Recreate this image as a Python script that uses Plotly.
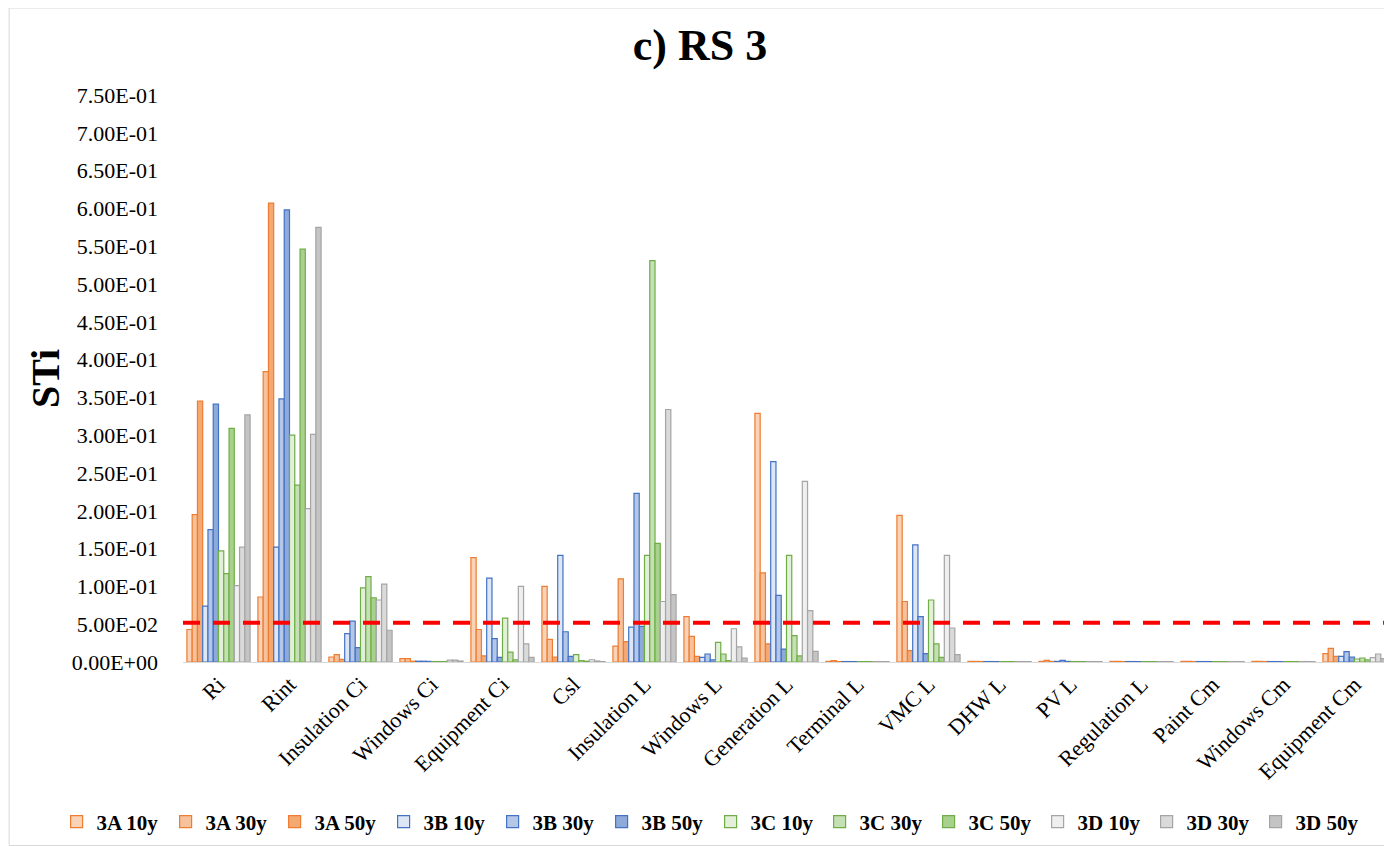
import plotly.graph_objects as go

categories = ["Ri", "Rint", "Insulation Ci", "Windows Ci", "Equipment Ci", "Csl",
              "Insulation L", "Windows L", "Generation L", "Terminal L", "VMC L",
              "DHW L", "PV L", "Regulation L", "Paint Cm", "Windows Cm", "Equipment Cm"]

s_3A_10y = [0.043, 0.086, 0.0066, 0.0044, 0.138, 0.100, 0.021, 0.060, 0.329, 0.0008, 0.194, 0.0008, 0.0008, 0.0008, 0.0008, 0.0008, 0.011]
s_3A_30y = [0.195, 0.384, 0.0097, 0.0044, 0.043, 0.030, 0.110, 0.034, 0.118, 0.0018, 0.080, 0.0008, 0.0022, 0.0008, 0.0008, 0.0008, 0.018]
s_3A_50y = [0.345, 0.607, 0.0035, 0.0010, 0.008, 0.0066, 0.027, 0.0075, 0.024, 0.0006, 0.015, 0.0006, 0.0008, 0.0006, 0.0006, 0.0006, 0.0075]
s_3B_10y = [0.074, 0.152, 0.0375, 0.0010, 0.111, 0.141, 0.046, 0.006, 0.265, 0.0006, 0.155, 0.0006, 0.0008, 0.0006, 0.0006, 0.0006, 0.0075]
s_3B_30y = [0.175, 0.348, 0.054, 0.0010, 0.031, 0.040, 0.223, 0.0106, 0.088, 0.0006, 0.060, 0.0006, 0.0022, 0.0006, 0.0006, 0.0006, 0.0137]
s_3B_50y = [0.341, 0.598, 0.019, 0.0008, 0.006, 0.0075, 0.047, 0.003, 0.017, 0.0005, 0.011, 0.0005, 0.0008, 0.0005, 0.0005, 0.0005, 0.0066]
s_3C_10y = [0.147, 0.300, 0.098, 0.0006, 0.058, 0.0097, 0.141, 0.026, 0.141, 0.0005, 0.082, 0.0005, 0.0006, 0.0005, 0.0005, 0.0005, 0.004]
s_3C_30y = [0.117, 0.234, 0.113, 0.0006, 0.013, 0.002, 0.531, 0.0106, 0.035, 0.0005, 0.024, 0.0005, 0.0006, 0.0005, 0.0005, 0.0005, 0.0053]
s_3C_50y = [0.309, 0.546, 0.085, 0.0005, 0.003, 0.001, 0.157, 0.002, 0.008, 0.0005, 0.006, 0.0005, 0.0005, 0.0005, 0.0005, 0.0005, 0.003]
s_3D_10y = [0.101, 0.203, 0.082, 0.0026, 0.100, 0.003, 0.080, 0.044, 0.239, 0.0006, 0.141, 0.0006, 0.0006, 0.0006, 0.0006, 0.0006, 0.0057]
s_3D_30y = [0.152, 0.301, 0.103, 0.0026, 0.024, 0.0013, 0.334, 0.020, 0.068, 0.0006, 0.045, 0.0006, 0.0006, 0.0006, 0.0006, 0.0006, 0.0106]
s_3D_50y = [0.327, 0.575, 0.042, 0.0013, 0.006, 0.0005, 0.089, 0.005, 0.014, 0.0005, 0.0097, 0.0005, 0.0005, 0.0005, 0.0005, 0.0005, 0.0044]

series_names = ["3A 10y", "3A 30y", "3A 50y", "3B 10y", "3B 30y", "3B 50y",
                "3C 10y", "3C 30y", "3C 50y", "3D 10y", "3D 30y", "3D 50y"]
series_values = [s_3A_10y, s_3A_30y, s_3A_50y, s_3B_10y, s_3B_30y, s_3B_50y,
                 s_3C_10y, s_3C_30y, s_3C_50y, s_3D_10y, s_3D_30y, s_3D_50y]

fill_colors = ["#F9D3B8", "#F7C19C", "#F4A872",
               "#DCE6F4", "#B4C7E7", "#8EAADB",
               "#E2F0D9", "#C5E0B4", "#A9D18E",
               "#EFEFEF", "#DADADA", "#C4C4C4"]
line_colors = ["#ED7D31"] * 3 + ["#4472C4"] * 3 + ["#70AD47"] * 3 + ["#A5A5A5"] * 3

threshold = 0.052

y_tickvals = [i * 0.05 for i in range(16)]
y_ticktext = [f"{v:.2E}" for v in y_tickvals]

FONT = "Liberation Serif"

# figure is placed at (8, 8) in the page by the default body margin
W, H = 1384, 838
PL, PR, PT, PB = 174.5, 1382.5, 87, 654
PW, PH = PR - PL, PB - PT

fig = go.Figure()
for name, vals, fc, lc in zip(series_names, series_values, fill_colors, line_colors):
    fig.add_trace(go.Bar(
        name=name, x=categories, y=vals,
        marker=dict(color=fc, line=dict(color=lc, width=1.2)),
    ))

fig.add_shape(type="line", xref="paper", yref="y", x0=0, x1=1, y0=threshold, y1=threshold,
              line=dict(color="#FF0000", width=4, dash="17px,13px"), layer="above")

# chart border
fig.add_shape(type="rect", xref="paper", yref="paper",
              x0=(0.5 - PL) / PW, x1=(1383 - PL) / PW,
              y0=(PB - 837.5) / PH, y1=(PB + 0) / PH,
              line=dict(color="#D9D9D9", width=1), fillcolor="rgba(0,0,0,0)", layer="below")

fig.add_annotation(text="<b>STi</b>", xref="paper", yref="paper",
                   x=(37 - PL) / PW, y=0.5, textangle=-90, showarrow=False,
                   font=dict(family=FONT, size=40, color="#000000"),
                   xanchor="center", yanchor="middle")

fig.update_layout(
    width=W, height=H,
    margin=dict(l=PL, r=W - PR, t=PT, b=H - PB),
    paper_bgcolor="white", plot_bgcolor="white",
    barmode="group", bargap=0.11, bargroupgap=0,
    title=dict(text="<b>c) RS 3</b>", x=0.5, xref="container", xanchor="center",
               y=1 - 37 / H, yref="container", yanchor="middle",
               font=dict(family=FONT, size=44, color="#000000")),
    font=dict(family=FONT, color="#000000"),
    legend=dict(orientation="h", x=(48 - PL) / PW, xanchor="left", xref="paper",
                y=(PB - 814) / PH, yref="paper", yanchor="middle",
                font=dict(family=FONT, size=21, color="#000000", weight="bold"),
                traceorder="normal", entrywidth=64, entrywidthmode="pixels"),
    showlegend=True,
)
fig.update_xaxes(tickangle=-45, tickfont=dict(family=FONT, size=22, color="#000000"),
                 showline=True, linecolor="#D9D9D9", linewidth=1, showgrid=False,
                 ticks="", ticklabelstandoff=0)
fig.update_yaxes(range=[0, 0.75], tickvals=y_tickvals, ticktext=y_ticktext,
                 tickfont=dict(family=FONT, size=22, color="#000000"),
                 showgrid=False, zeroline=False, showline=False, ticks="",
                 ticklabelstandoff=24)

fig.write_html("out.html")
